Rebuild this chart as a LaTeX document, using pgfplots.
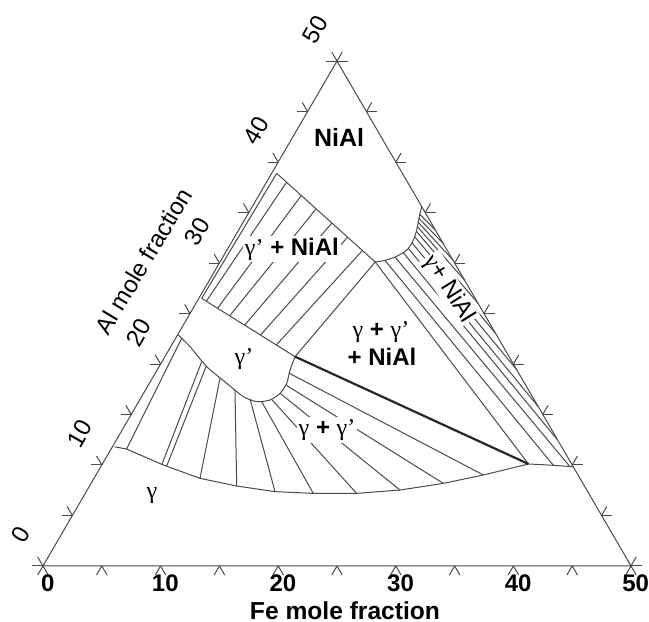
\documentclass[border=0pt]{standalone}
\usepackage{fontspec}
\setmainfont{Liberation Sans}
\newfontfamily\gr{Liberation Serif}
\usepackage{pgfplots}
\pgfplotsset{compat=1.18}
\definecolor{lc}{HTML}{4A4A4A}
\definecolor{tc}{HTML}{1A1A1A}
\newcommand{\g}{{\gr γ}}
\newcommand{\p}{{\gr ’}}
\pgfplotsset{
  table/tern/.style={x expr=\thisrow{fe}+0.5*\thisrow{al}, y expr=0.8660254*\thisrow{al}, row sep=\\},
  ln/.style={draw=lc, line width=0.5pt, mark=none},
  tie/.style={draw=lc, line width=0.5pt,
    quiver={u=\thisrow{fb}+0.5*\thisrow{ab}-\thisrow{fe}-0.5*\thisrow{al},
            v=0.8660254*(\thisrow{ab}-\thisrow{al})}},
  tk/.style={draw=lc, line width=0.5pt, quiver={u=\thisrow{u}, v=\thisrow{v}}},
}
\begin{document}
\begin{tikzpicture}
\begin{axis}[x=5.88pt, y=5.83pt, xmin=-3.656, xmax=51.53, ymin=-4.803, ymax=48.54,
  axis line style={draw=none}, xtick=\empty, ytick=\empty, clip=false,
  axis background/.style={fill=white},
  every node/.style={text=tc, inner sep=0pt, outer sep=0pt}]
% triangle
\addplot[ln] table[tern]{fe al\\ 0 0\\ 50 0\\ 0 50\\ 0 0\\};
% ticks
\addplot[tk] table[tern]{fe al u v\\
0 0 -0.45 -0.779\\ 0 0 0.45 -0.779\\ 5 0 -0.45 -0.779\\ 5 0 0.45 -0.779\\
10 0 -0.45 -0.779\\ 10 0 0.45 -0.779\\ 15 0 -0.45 -0.779\\ 15 0 0.45 -0.779\\
20 0 -0.45 -0.779\\ 20 0 0.45 -0.779\\ 25 0 -0.45 -0.779\\ 25 0 0.45 -0.779\\
30 0 -0.45 -0.779\\ 30 0 0.45 -0.779\\ 35 0 -0.45 -0.779\\ 35 0 0.45 -0.779\\
40 0 -0.45 -0.779\\ 40 0 0.45 -0.779\\ 45 0 -0.45 -0.779\\ 45 0 0.45 -0.779\\
50 0 -0.45 -0.779\\ 50 0 0.45 -0.779\\
0 0 -0.9 0\\ 0 0 -0.45 0.779\\ 0 5 -0.9 0\\ 0 5 -0.45 0.779\\
0 10 -0.9 0\\ 0 10 -0.45 0.779\\ 0 15 -0.9 0\\ 0 15 -0.45 0.779\\
0 20 -0.9 0\\ 0 20 -0.45 0.779\\ 0 25 -0.9 0\\ 0 25 -0.45 0.779\\
0 30 -0.9 0\\ 0 30 -0.45 0.779\\ 0 35 -0.9 0\\ 0 35 -0.45 0.779\\
0 40 -0.9 0\\ 0 40 -0.45 0.779\\ 0 45 -0.9 0\\ 0 45 -0.45 0.779\\
0 50 -0.9 0\\ 0 50 -0.45 0.779\\
50 0 0.9 0\\ 50 0 0.45 0.779\\ 45 5 0.9 0\\ 45 5 0.45 0.779\\
40 10 0.9 0\\ 40 10 0.45 0.779\\ 35 15 0.9 0\\ 35 15 0.45 0.779\\
30 20 0.9 0\\ 30 20 0.45 0.779\\ 25 25 0.9 0\\ 25 25 0.45 0.779\\
20 30 0.9 0\\ 20 30 0.45 0.779\\ 15 35 0.9 0\\ 15 35 0.45 0.779\\
10 40 0.9 0\\ 10 40 0.45 0.779\\ 5 45 0.9 0\\ 5 45 0.45 0.779\\
0 50 0.9 0\\ 0 50 0.45 0.779\\
};
% gamma boundary
\addplot[ln] table[tern]{fe al\\ 0.2 11.8\\ 1.32 11.58\\ 5.23 10.0\\ 9.01 8.68\\ 12.51 7.92\\ 16.05 7.36\\ 19.39 7.19\\ 23.07 7.19\\ 26.60 7.52\\ 29.95 8.18\\ 32.94 9.01\\ 36.23 10.1\\ 38.41 9.97\\ 40.18 9.82\\};
% gamma' lower boundary
\addplot[ln, smooth, tension=0.4] table[tern]{fe al\\ 0.07 22.87\\ 1.64 21.72\\ 4.05 19.74\\ 6.58 18.09\\ 8.65 16.77\\ 10.03 16.27\\ 11.09 16.44\\ 11.61 17.10\\ 11.68 18.09\\ 11.30 19.41\\ 11.07 20.73\\};
% gamma' upper boundary
\addplot[ln] table[tern]{fe al\\ 0.24 26.5\\ 11.07 20.73\\};
% NiAl boundary and arc
\addplot[ln, smooth, tension=0.3] table[tern]{fe al\\ 13.2 30.1\\ 13.95 30.26\\ 14.64 30.59\\ 15.13 31.02\\ 15.34 31.45\\ 15.37 32.01\\ 15.30 32.61\\ 15.18 33.14\\ 15.03 33.60\\ 14.90 34.03\\ 14.76 34.42\\ 14.62 34.82\\ 14.42 35.58\\};
\addplot[ln] table[tern]{fe al\\ 0.43 38.88\\ 13.2 30.1\\};
% strip along left edge
\addplot[ln] table[tern]{fe al\\ 0.43 38.88\\ 0.24 26.5\\};
% three-phase triangle
\addplot[ln] table[tern]{fe al\\ 11.07 20.73\\ 13.2 30.1\\ 36.23 10.1\\};
\addplot[draw=black!85, line width=1.1pt] table[tern]{fe al\\ 11.07 20.73\\ 36.23 10.1\\};
% gamma' + NiAl tie lines
\addplot[tie] table[tern]{fe al fb ab\\
1.71 38.00 0.78 26.21\\ 3.62 36.69 2.08 25.52\\ 5.54 35.37 3.49 24.77\\
7.58 33.96 5.22 23.85\\ 9.62 32.56 7.06 22.86\\ 11.54 31.24 8.90 21.88\\};
% gamma + gamma' tie lines
\addplot[tie] table[tern]{fe al fb ab\\
0.52 22.54 1.32 11.58\\ 3.38 20.23 5.09 10.00\\ 3.99 19.74 5.57 9.90\\
5.76 18.58 9.01 8.68\\ 7.61 17.43 12.51 7.92\\ 9.34 16.53 16.05 7.36\\
10.46 16.27 19.39 7.19\\ 11.19 16.50 23.07 7.19\\ 11.61 17.10 26.60 7.52\\
11.70 17.92 29.95 8.18\\ 11.41 19.08 32.94 9.01\\};
% gamma + NiAl tie lines
\addplot[tie] table[tern]{fe al fb ab\\
13.95 30.26 38.41 9.97\\ 14.64 30.59 39.81 9.90\\ 15.13 31.02 37.52 12.48\\
15.34 31.45 34.22 15.78\\ 15.37 32.01 30.59 19.41\\ 15.30 32.61 26.96 23.04\\
15.18 33.14 23.99 26.01\\ 15.03 33.60 21.68 28.32\\ 14.90 34.03 19.70 30.30\\
14.76 34.42 18.05 31.95\\ 14.62 34.82 16.73 33.27\\};
% labels
\begin{scope}[every node/.append style={font=\fontsize{12}{14}\selectfont}]
\node[font=\fontsize{12.5}{14}\selectfont\bfseries] at (axis cs:25.17,36.71) {NiAl};
\node[fill=white, inner sep=1pt] at (axis cs:21.17,27.19) {\g\p\ \textbf{+ NiAl}};
\node at (axis cs:28.74,20.07) {\g\ \textbf{+} \g\p};
\node at (axis cs:28.83,17.92) {\textbf{+ NiAl}};
\node at (axis cs:17.09,17.75) {\g\p};
\node[fill=white, inner sep=1pt] at (axis cs:24.15,11.66) {\g\ \textbf{+} \g\p};
\node at (axis cs:9.27,6.0) {\g};
\node[rotate=-58, fill=white, inner sep=0.6pt] at (axis cs:34.52,23.76) {\g+ NiAl};
\node[rotate=59] at (axis cs:8.55,26.15) {Al mole fraction};
\node[font=\fontsize{12.3}{14}\selectfont\bfseries] at (axis cs:25.68,-3.86) {Fe mole fraction};
\node[font=\fontsize{12}{14}\selectfont\bfseries] at (axis cs:0.4,-1.46) {0};
\node[font=\fontsize{12}{14}\selectfont\bfseries] at (axis cs:10.4,-1.46) {10};
\node[font=\fontsize{12}{14}\selectfont\bfseries] at (axis cs:20.4,-1.46) {20};
\node[font=\fontsize{12}{14}\selectfont\bfseries] at (axis cs:30.4,-1.46) {30};
\node[font=\fontsize{12}{14}\selectfont\bfseries] at (axis cs:40.4,-1.46) {40};
\node[font=\fontsize{12}{14}\selectfont\bfseries] at (axis cs:50.4,-1.46) {50};
\node[rotate=60] at (axis cs:-1.87,2.69) {0};
\node[rotate=60] at (axis cs:3.13,11.35) {10};
\node[rotate=60] at (axis cs:8.13,20.01) {20};
\node[rotate=60] at (axis cs:13.13,28.67) {30};
\node[rotate=60] at (axis cs:18.13,37.33) {40};
\node[rotate=60] at (axis cs:23.13,45.99) {50};
\end{scope}
\end{axis}
\pgfresetboundingbox
\path[use as bounding box] (current axis.south west) rectangle (current axis.north east);
\end{tikzpicture}
\end{document}
